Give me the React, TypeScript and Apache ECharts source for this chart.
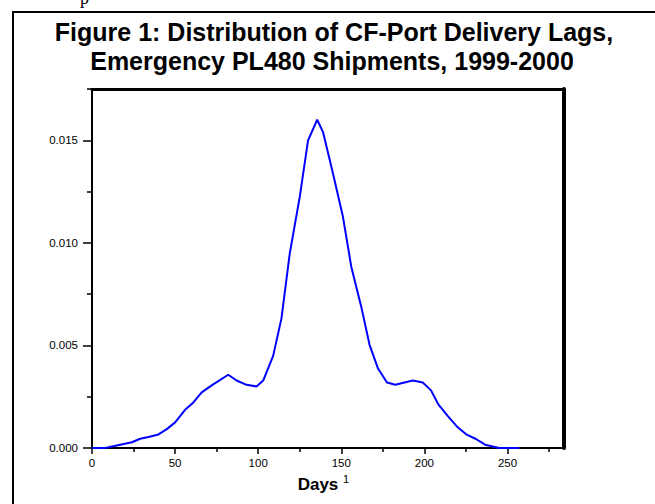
import React, { useEffect, useRef } from 'react';
import * as echarts from 'echarts';

// Data
const days = [0, 8, 17, 24, 29, 34, 40, 45, 50, 56, 61, 66, 72, 82, 87, 93, 99, 103, 109, 114, 119, 125, 130, 135.5, 139, 145, 151, 156, 162, 167, 172, 177.5, 182.5, 193, 199, 204, 208.5, 214, 219.5, 225.5, 231, 236.5, 245, 257];
const density = [0, 0, 0.00016, 0.00028, 0.00045, 0.00054, 0.00066, 0.00092, 0.00125, 0.00186, 0.00222, 0.00271, 0.00305, 0.00357, 0.00329, 0.00308, 0.0030, 0.00329, 0.00449, 0.00632, 0.00949, 0.01224, 0.0150, 0.0160, 0.0154, 0.01338, 0.01127, 0.00884, 0.00689, 0.00503, 0.00389, 0.00319, 0.00308, 0.00329, 0.00319, 0.00281, 0.00211, 0.00157, 0.00105, 0.00065, 0.00044, 0.00016, 0, 0];

const xLabelValues = [0, 50, 100, 150, 200, 250];
const xMinorTickValues = [25, 75, 125, 175, 225, 275];
const yLabelValues = [0, 0.005, 0.01, 0.015];
const yMinorTickValues = [0.0025, 0.0075, 0.0125, 0.0175];

const titleLines = ['Figure 1: Distribution of CF-Port Delivery Lags,', 'Emergency PL480 Shipments, 1999-2000'];
const xAxisTitle = 'Days';
const footnoteMark = '1';

const FONT = '"Liberation Sans", Arial, Helvetica, sans-serif';
const X_MAX = 284;
const Y_MAX = 0.0175;

export default function App() {
  const ref = useRef<HTMLDivElement>(null);

  useEffect(() => {
    if (!ref.current) return;
    const chart = echarts.init(ref.current, undefined, { renderer: 'svg' });
    const black = '#000000';
    const option: any = {
      animation: false,
      backgroundColor: '#ffffff',
      grid: { left: 92, right: 91, top: 89, bottom: 56, outerBoundsMode: 'none' },
      xAxis: [
        {
          type: 'value', position: 'bottom', min: 0, max: X_MAX,
          axisLine: { show: true, onZero: false, lineStyle: { color: black, width: 2 } },
          axisTick: { show: true, customValues: xLabelValues, length: 6, lineStyle: { color: black, width: 1.5 } },
          axisLabel: { show: true, customValues: xLabelValues, margin: 9, color: black, fontSize: 11.5, fontFamily: FONT },
          splitLine: { show: false },
        },
        {
          type: 'value', position: 'bottom', min: 0, max: X_MAX,
          axisLine: { show: false, onZero: false },
          axisTick: { show: true, customValues: xMinorTickValues, length: 4, lineStyle: { color: black, width: 1.5 } },
          axisLabel: { show: false },
          splitLine: { show: false },
        },
        {
          type: 'value', position: 'top', min: 0, max: X_MAX,
          axisLine: { show: true, onZero: false, lineStyle: { color: black, width: 3 } },
          axisTick: { show: false },
          axisLabel: { show: false },
          splitLine: { show: false },
        },
      ],
      yAxis: [
        {
          type: 'value', position: 'left', min: 0, max: Y_MAX,
          axisLine: { show: true, onZero: false, lineStyle: { color: black, width: 2 } },
          axisTick: { show: true, customValues: yLabelValues, length: 9, lineStyle: { color: black, width: 1.5 } },
          axisLabel: {
            show: true, customValues: yLabelValues, margin: 14, color: black, fontSize: 11.5, fontFamily: FONT,
            formatter: (v: number) => v.toFixed(3),
          },
          splitLine: { show: false },
        },
        {
          type: 'value', position: 'left', min: 0, max: Y_MAX,
          axisLine: { show: false, onZero: false },
          axisTick: { show: true, customValues: yMinorTickValues, length: 5, lineStyle: { color: black, width: 1.5 } },
          axisLabel: { show: false },
          splitLine: { show: false },
        },
        {
          type: 'value', position: 'right', min: 0, max: Y_MAX,
          axisLine: { show: true, onZero: false, lineStyle: { color: black, width: 4 } },
          axisTick: { show: false },
          axisLabel: { show: false },
          splitLine: { show: false },
        },
      ],
      series: [
        {
          type: 'line',
          xAxisIndex: 0,
          yAxisIndex: 0,
          data: days.map((d, i) => [d, density[i]]),
          showSymbol: false,
          symbol: 'none',
          lineStyle: { color: '#0000ff', width: 2 },
          z: 5,
        },
      ],
      graphic: [
        {
          type: 'rect', silent: true,
          shape: { x: 13, y: 12, width: 900, height: 900 },
          style: { fill: 'none', stroke: black, lineWidth: 2 },
        },
        {
          type: 'text', silent: true, x: 80, y: 7,
          style: { text: 'p', font: '18px "Liberation Serif", "Times New Roman", serif', fill: black, textVerticalAlign: 'bottom' },
        },
        {
          type: 'text', silent: true, x: 334, y: 32,
          style: { text: titleLines[0], font: `bold 25px ${FONT}`, fill: black, textAlign: 'center', textVerticalAlign: 'middle' },
        },
        {
          type: 'text', silent: true, x: 332, y: 61,
          style: { text: titleLines[1], font: `bold 25px ${FONT}`, fill: black, textAlign: 'center', textVerticalAlign: 'middle' },
        },
        {
          type: 'text', silent: true, x: 318, y: 484,
          style: { text: xAxisTitle, font: `bold 17px ${FONT}`, fill: black, textAlign: 'center', textVerticalAlign: 'middle' },
        },
        {
          type: 'text', silent: true, x: 343, y: 479,
          style: { text: footnoteMark, font: `11px ${FONT}`, fill: black, textAlign: 'left', textVerticalAlign: 'middle' },
        },
      ],
    };
    chart.setOption(option);
    return () => {
      chart.dispose();
    };
  }, []);

  return (
    <div
      ref={ref}
      style={{ position: 'fixed', left: 0, top: 0, width: 655, height: 504, background: '#fff' }}
    />
  );
}
